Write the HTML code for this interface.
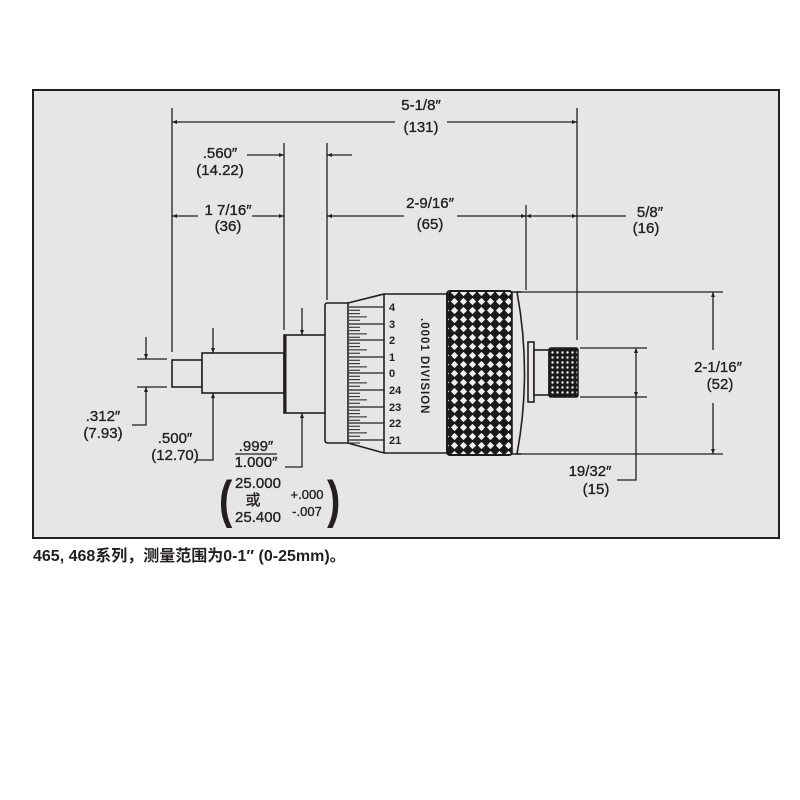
<!DOCTYPE html>
<html><head><meta charset="utf-8"><style>
html,body{margin:0;padding:0;background:#fff;width:800px;height:800px;overflow:hidden}
svg{display:block}
text{font-family:"Liberation Sans","Noto Sans CJK SC",sans-serif;fill:#231f20}
</style></head><body>
<svg width="800" height="800" viewBox="0 0 800 800" xmlns="http://www.w3.org/2000/svg">
<defs>
<pattern id="kn" width="9" height="9" patternUnits="userSpaceOnUse">
<rect width="9" height="9" fill="#1a1a1a"/>
<path d="M4.5 0.9 L8.1 4.5 L4.5 8.1 L0.9 4.5Z" fill="#eee"/>
</pattern>
<pattern id="kn2" width="5" height="5" patternUnits="userSpaceOnUse">
<rect width="5" height="5" fill="#1a1a1a"/>
<circle cx="2.5" cy="2.5" r="1.2" fill="#eee"/>
</pattern>
<marker id="a" viewBox="0 0 10 10" refX="10" refY="5" markerWidth="7" markerHeight="5" orient="auto-start-reverse" markerUnits="userSpaceOnUse"><path d="M0 1 L10 5 L0 9Z" fill="#231f20"/></marker>
</defs>
<rect x="33" y="90" width="746" height="448" fill="#e6e6e6" stroke="#231f20" stroke-width="2"/>
<g stroke="#231f20" stroke-width="1.3" fill="none">
<line x1="172" y1="108" x2="172" y2="352"/>
<line x1="577" y1="108" x2="577" y2="340"/>
<line x1="284" y1="143" x2="284" y2="330"/>
<line x1="327" y1="143" x2="327" y2="300"/>
<line x1="526" y1="205" x2="526" y2="290"/>
<line x1="521" y1="292" x2="723" y2="292"/>
<line x1="521" y1="454" x2="723" y2="454"/>
<line x1="580" y1="348" x2="647" y2="348"/>
<line x1="580" y1="397" x2="647" y2="397"/>
<line x1="137" y1="359" x2="167" y2="359"/>
<line x1="137" y1="387" x2="167" y2="387"/>
<line x1="172" y1="122" x2="395" y2="122" marker-start="url(#a)"/>
<line x1="447" y1="122" x2="577" y2="122" marker-end="url(#a)"/>
<line x1="247" y1="155" x2="284" y2="155" marker-end="url(#a)"/>
<line x1="352" y1="155" x2="327" y2="155" marker-end="url(#a)"/>
<line x1="172" y1="216" x2="198" y2="216" marker-start="url(#a)"/>
<line x1="252" y1="216" x2="284" y2="216" marker-end="url(#a)"/>
<line x1="327" y1="216" x2="404" y2="216" marker-start="url(#a)"/>
<line x1="457" y1="216" x2="526" y2="216" marker-end="url(#a)"/>
<line x1="526" y1="216" x2="577" y2="216" marker-start="url(#a)" marker-end="url(#a)"/>
<line x1="577" y1="216" x2="626" y2="216"/>
<line x1="713" y1="292" x2="713" y2="350" marker-start="url(#a)"/>
<line x1="713" y1="403" x2="713" y2="454" marker-end="url(#a)"/>
<line x1="636" y1="348" x2="636" y2="397" marker-start="url(#a)" marker-end="url(#a)"/>
<polyline points="636,397 636,480 617,480"/>
<line x1="146" y1="337" x2="146" y2="359" marker-end="url(#a)"/>
<polyline points="132,425 146,425 146,387" marker-end="url(#a)"/>
<line x1="213" y1="328" x2="213" y2="353" marker-end="url(#a)"/>
<polyline points="196,460 213,460 213,393" marker-end="url(#a)"/>
<line x1="302" y1="308" x2="302" y2="335" marker-end="url(#a)"/>
<polyline points="285,467 302,467 302,413" marker-end="url(#a)"/>
</g>
<g stroke="#231f20" stroke-width="1.6" fill="#e6e6e6">
<rect x="172" y="360" width="30" height="27"/>
<rect x="202" y="353" width="82" height="40"/>
<rect x="284" y="335" width="42" height="78"/>
<path d="M348 303 L327 303 Q325 303 325 306 L325 440 Q325 443 328 443 L348 443"/>
<path d="M348 303 L384 294 L447 294 L447 453 L384 453 L348 443 Z"/>
<line x1="384" y1="294" x2="384" y2="453"/>
</g>
<line x1="285" y1="335" x2="285" y2="413" stroke="#231f20" stroke-width="3"/>
<rect x="447" y="291" width="65" height="164" rx="3" fill="url(#kn)" stroke="#1a1a1a" stroke-width="2"/>
<g stroke="#231f20" stroke-width="1.6" fill="#e6e6e6">
<path d="M512 292 L517 292 Q532 373 517 454 L512 454 Z"/>
<line x1="517" y1="292" x2="521" y2="292"/><line x1="517" y1="454" x2="521" y2="454"/>
<rect x="528" y="342" width="6" height="60"/>
<rect x="534" y="350" width="15" height="45"/>
</g>
<rect x="549" y="348" width="29" height="49" rx="2" fill="url(#kn2)" stroke="#1a1a1a" stroke-width="1.5"/>
<g stroke="#231f20" stroke-width="1.2">
<line x1="349" y1="307" x2="384" y2="307"/><line x1="349" y1="324" x2="384" y2="324"/>
<line x1="349" y1="340" x2="384" y2="340"/><line x1="349" y1="357" x2="384" y2="357"/>
<line x1="349" y1="373" x2="384" y2="373"/><line x1="349" y1="390" x2="384" y2="390"/>
<line x1="349" y1="407" x2="384" y2="407"/><line x1="349" y1="423" x2="384" y2="423"/>
<line x1="349" y1="440" x2="384" y2="440"/>
</g>
<g stroke="#231f20" stroke-width="1">
<path d="M349 310.3h11M349 313.6h11M349 316.9h18M349 320.2h11M349 327.3h11M349 330.6h11M349 333.9h18M349 337.2h11M349 343.3h11M349 346.6h11M349 349.9h18M349 353.2h11M349 360.3h11M349 363.6h11M349 366.9h18M349 370.2h11M349 376.3h11M349 379.6h11M349 382.9h18M349 386.2h11M349 393.3h11M349 396.6h11M349 399.9h18M349 403.2h11M349 410.3h11M349 413.6h11M349 416.9h18M349 420.2h11M349 426.3h11M349 429.6h11M349 432.9h18M349 436.2h11M349 443h11"/>
</g>
<g font-size="11" font-weight="bold">
<text x="389" y="311">4</text><text x="389" y="328">3</text><text x="389" y="344">2</text>
<text x="389" y="361">1</text><text x="389" y="377">0</text><text x="389" y="394">24</text>
<text x="389" y="411">23</text><text x="389" y="427">22</text><text x="389" y="444">21</text>
</g>
<text transform="translate(421,318) rotate(90)" font-size="11.5" font-weight="bold" letter-spacing="1">.0001 DIVISION</text>
<g font-size="15" text-anchor="middle" stroke="#231f20" stroke-width="0.35">
<text x="421" y="110">5-1/8″</text><text x="421" y="132">(131)</text>
<text x="220" y="158">.560″</text><text x="220" y="175">(14.22)</text>
<text x="228" y="215">1 7/16″</text><text x="228" y="231">(36)</text>
<text x="430" y="208">2-9/16″</text><text x="430" y="229">(65)</text>
<text x="650" y="217">5/8″</text><text x="646" y="233">(16)</text>
<text x="718" y="372">2-1/16″</text><text x="720" y="389">(52)</text>
<text x="590" y="476">19/32″</text><text x="596" y="494">(15)</text>
<text x="103" y="421">.312″</text><text x="103" y="438">(7.93)</text>
<text x="175" y="443">.500″</text><text x="175" y="460">(12.70)</text>
<text x="256" y="451">.999″</text><text x="256" y="467">1.000″</text>
<text x="258" y="488">25.000</text><text x="253" y="505">或</text><text x="258" y="522">25.400</text>
<text x="307" y="499" font-size="13">+.000</text><text x="307" y="516" font-size="13">-.007</text>
</g>
<line x1="235" y1="454" x2="277" y2="454" stroke="#231f20" stroke-width="1.2"/>
<text x="0" y="0" font-size="40" font-weight="bold" transform="translate(219,517) scale(1,1.3)">(</text>
<text x="0" y="0" font-size="40" font-weight="bold" transform="translate(327,517) scale(1,1.3)">)</text>
<text x="33" y="561" font-size="16" font-weight="bold">465, 468系列，测量范围为0-1″ (0-25mm)。</text>
</svg>
</body></html>
